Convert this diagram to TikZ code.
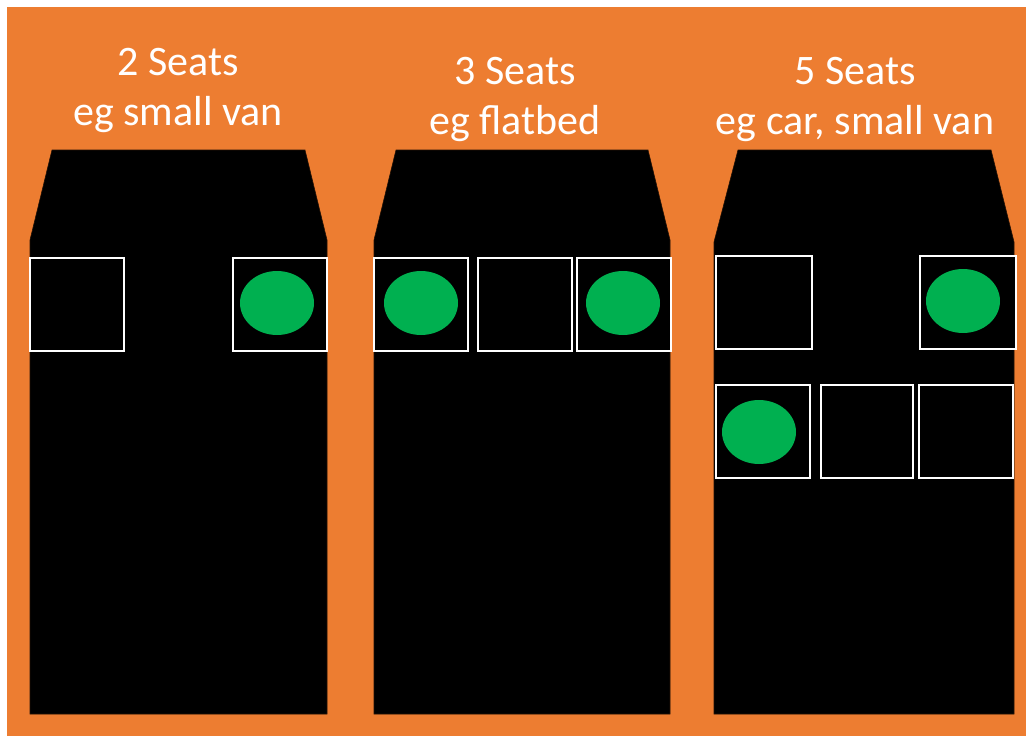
\documentclass[tikz,border=0pt]{standalone}
\usepackage{fontspec}
\setmainfont{Carlito}
\usetikzlibrary{shapes.geometric}
\definecolor{bgorange}{HTML}{ED7D31}
\definecolor{seatgreen}{HTML}{00B050}
\tikzset{
  body/.style={fill=black, draw=black!85!bgorange, line width=0.6pt},
  seat/.style={draw=white, line width=2pt, fill=black, minimum width=#1, minimum height=93pt, inner sep=0pt, rectangle},
  seat/.default=94pt,
  person/.style={ellipse, fill=seatgreen, minimum width=74pt, minimum height=64pt, inner sep=0pt},
  title/.style={text=white, font=\fontsize{42}{50}\selectfont, anchor=base, inner sep=0pt}
}
\begin{document}
\begin{tikzpicture}[x=1pt,y=-1pt]
\useasboundingbox (0,0) rectangle (1026,736);
\fill[white] (0,0) rectangle (1026,736);
\fill[bgorange] (7,7) rectangle (1026,736);
% van 1
\draw[body] (52,150) -- (305,150) -- (327,240) -- (327,714) -- (30,714) -- (30,240) -- cycle;
% van 2
\draw[body] (396,150) -- (648,150) -- (670,240) -- (670,714) -- (374,714) -- (374,240) -- cycle;
% van 3
\draw[body] (738,150) -- (991,150) -- (1014,242) -- (1014,714) -- (714,714) -- (714,242) -- cycle;
% titles
\node[title] (t1a) at (178,75) {2 Seats};
\node[title] (t1b) at (178,125) {eg small van};
\node[title] (t2a) at (515,84) {3 Seats};
\node[title] (t2b) at (515,134) {eg flatbed};
\node[title] (t3a) at (855,84) {5 Seats};
\node[title] (t3b) at (855,134) {eg car, small van};
% van 1 seats
\node[seat] (s11) at (77,304.5) {};
\node[seat] (s12) at (280,304.5) {};
\node[person] (p12) at (277,303) {};
% van 2 seats
\node[seat] (s21) at (421,304.5) {};
\node[seat] (s22) at (525,304.5) {};
\node[seat] (s23) at (624,304.5) {};
\node[person] (p21) at (421,303) {};
\node[person] (p23) at (623,303) {};
% van 3 seats
\node[seat=96pt] (s31) at (763.5,302) {};
\node[seat=96pt] (s32) at (967.5,302) {};
\node[person] (p32) at (963,301) {};
\node[seat=94pt] (s33) at (762.5,431) {};
\node[seat=92pt] (s34) at (867,431) {};
\node[seat=94pt] (s35) at (966,431) {};
\node[person] (p33) at (759,432) {};
\end{tikzpicture}
\end{document}
